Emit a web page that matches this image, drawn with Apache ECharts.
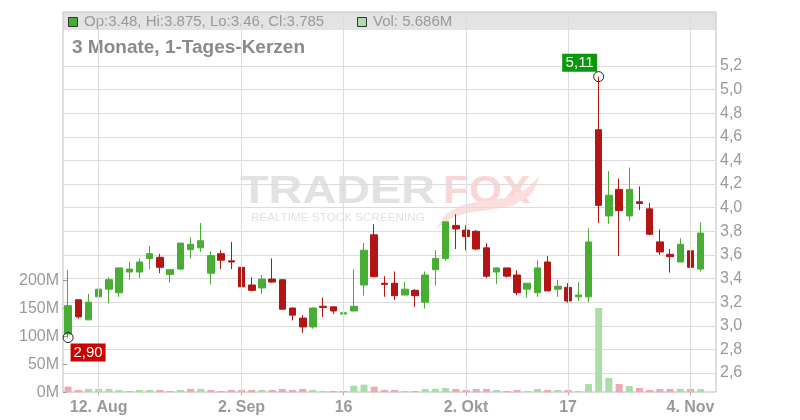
<!DOCTYPE html>
<html><head><meta charset="utf-8">
<script src="https://cdn.jsdelivr.net/npm/echarts@6/dist/echarts.min.js"></script>
<style>html,body{margin:0;padding:0;background:#fff}#c{width:800px;height:420px}</style>
</head><body><div id="c"></div>
<script>
// ---- data ----
const categories = [
 '2024-08-07','2024-08-08','2024-08-09','2024-08-12','2024-08-13','2024-08-14','2024-08-16',
 '2024-08-19','2024-08-20','2024-08-21','2024-08-22','2024-08-23','2024-08-26','2024-08-27',
 '2024-08-28','2024-08-29','2024-08-30','2024-09-02','2024-09-03','2024-09-04','2024-09-05',
 '2024-09-06','2024-09-09','2024-09-10','2024-09-11','2024-09-12','2024-09-13','2024-09-16',
 '2024-09-17','2024-09-18','2024-09-19','2024-09-20','2024-09-23','2024-09-24','2024-09-25',
 '2024-09-26','2024-09-27','2024-09-30','2024-10-01','2024-10-02','2024-10-04','2024-10-07',
 '2024-10-08','2024-10-09','2024-10-10','2024-10-11','2024-10-14','2024-10-15','2024-10-16',
 '2024-10-17','2024-10-18','2024-10-21','2024-10-22','2024-10-23','2024-10-24','2024-10-25',
 '2024-10-28','2024-10-29','2024-10-30','2024-10-31','2024-11-01','2024-11-04','2024-11-05'
];
const openP = [2.93,3.22,3.05,3.245,3.31,3.28,3.455,3.455,3.57,3.58,3.435,3.48,3.645,3.66,3.445,3.61,3.55,3.495,3.345,3.32,3.395,3.39,3.15,3.065,2.99,3.165,3.16,3.10,3.125,3.345,3.77,3.36,3.36,3.26,3.30,3.20,3.475,3.57,3.85,3.81,3.80,3.66,3.455,3.49,3.43,3.31,3.28,3.54,3.31,3.325,3.245,3.245,4.66,3.93,4.155,3.93,4.05,3.99,3.71,3.605,3.54,3.635,3.48];
const closeP = [3.17,3.075,3.20,3.31,3.39,3.49,3.48,3.54,3.61,3.495,3.475,3.70,3.69,3.72,3.595,3.555,3.54,3.33,3.30,3.395,3.37,3.14,3.09,2.99,3.15,3.155,3.125,3.11,3.165,3.64,3.415,3.35,3.255,3.31,3.255,3.43,3.57,3.88,3.82,3.755,3.65,3.42,3.49,3.42,3.28,3.36,3.49,3.295,3.335,3.21,3.26,3.71,4.02,4.105,3.975,4.155,4.035,3.775,3.625,3.585,3.69,3.495,3.785];
const lowP = [2.90,3.06,3.05,3.24,3.19,3.245,3.39,3.405,3.48,3.445,3.365,3.47,3.57,3.625,3.35,3.48,3.48,3.32,3.29,3.27,3.365,3.14,3.045,2.94,2.975,3.075,3.10,3.06,3.125,3.255,3.415,3.245,3.22,3.26,3.16,3.145,3.34,3.55,3.65,3.64,3.64,3.405,3.355,3.41,3.26,3.24,3.245,3.295,3.245,3.195,3.21,3.20,3.87,3.865,3.59,3.89,3.98,3.765,3.60,3.45,3.54,3.47,3.46];
const highP = [3.47,3.22,3.27,3.47,3.41,3.49,3.54,3.57,3.675,3.61,3.475,3.70,3.75,3.87,3.63,3.64,3.71,3.54,3.41,3.43,3.57,3.395,3.155,3.09,3.155,3.24,3.165,3.15,3.48,3.70,3.86,3.42,3.46,3.37,3.31,3.46,3.64,3.88,3.945,3.85,3.81,3.70,3.495,3.49,3.47,3.36,3.555,3.59,3.39,3.36,3.37,3.825,5.11,4.31,4.245,4.34,4.18,4.04,3.815,3.65,3.74,3.64,3.875];
const volumeM = [10.1,4.2,6,6,6,4.2,2.4,4.2,4.2,4.2,2.4,4.2,6,6,4.2,2.4,4.2,4.2,4.2,4.2,4.2,6,4.2,6,4.2,2.4,2.4,2.4,12,13.7,10.1,4.2,4.2,2.4,2.4,6,6,7.7,6,4.2,6,6,4.2,2.4,4.2,2.4,6,4.2,4.2,4.2,2.4,14.9,150.6,25.6,14.9,11.3,7.7,4.2,6,6,6,6,5.686];
const prevClose = 3.25;
const tickDates = ['2024-08-12','2024-09-02','2024-09-16','2024-10-02','2024-10-17','2024-11-04'];
const tickLabels = ['12. Aug','2. Sep','16','2. Okt','17','4. Nov'];
const titleText = '3 Monate, 1-Tages-Kerzen';

// ---- build ----
const FONT = "'Liberation Sans', Arial, sans-serif";
const UP = '#47ae33', DOWN = '#b31515';
const axisCats = categories.concat(['']);
const candleData = categories.map((d, i) => [openP[i], closeP[i], lowP[i], highP[i]]);
const volData = volumeM.map((v, i) => {
  const pc = i === 0 ? prevClose : closeP[i - 1];
  return { value: v * 1e6, itemStyle: { color: closeP[i] >= pc ? '#aadda8' : '#f0a8b2' } };
});
const tickIdx = tickDates.map(d => categories.indexOf(d));
const labelOf = {};
tickIdx.forEach((k, j) => { labelOf[k] = tickLabels[j]; });
let iMax = 0, iMin = 0;
highP.forEach((v, i) => { if (v > highP[iMax]) iMax = i; });
lowP.forEach((v, i) => { if (v < lowP[iMin]) iMin = i; });
const fmt2 = v => v.toFixed(2).replace('.', ',');
const L = categories.length - 1;
const legendText = 'Op:' + openP[L] + ', Hi:' + highP[L] + ', Lo:' + lowP[L] + ', Cl:' + closeP[L];
const volText = 'Vol: ' + volumeM[L].toFixed(3) + 'M';

const chart = echarts.init(document.getElementById('c'), null, { renderer: 'canvas' });
chart.setOption({
  animation: false,
  backgroundColor: '#fff',
  textStyle: { fontFamily: FONT },
  grid: [
    { left: 63, right: 84, top: 12, bottom: 28, show: true, borderColor: '#bdbdbd', borderWidth: 1, backgroundColor: 'rgba(0,0,0,0)' },
    { left: 63, right: 84, top: 66, bottom: 23.4 },
    { left: 63, right: 84, top: 280.3, bottom: 27.7 }
  ],
  xAxis: [
    { gridIndex: 0, type: 'value', min: -0.5, max: axisCats.length - 0.5, show: false },
    { gridIndex: 1, type: 'category', data: axisCats, boundaryGap: true, show: false },
    { gridIndex: 2, type: 'category', data: axisCats, boundaryGap: true,
      axisLine: { show: false },
      axisTick: { show: true, interval: (i) => (i in labelOf), alignWithLabel: true, length: 3, lineStyle: { color: '#aaa' } },
      axisLabel: { interval: (i) => (i in labelOf), formatter: (v, i) => labelOf[i] || '', color: '#9a9a9a', fontSize: 16, fontWeight: 'bold', fontFamily: FONT, margin: 7 },
      splitLine: { show: false } }
  ],
  yAxis: [
    { gridIndex: 0, type: 'value', min: 0, max: 1, show: false },
    { gridIndex: 1, type: 'value', position: 'right', min: 2.4, max: 5.2, interval: 0.2,
      axisLine: { show: false }, axisTick: { show: false },
      axisLabel: { formatter: v => (v < 2.5 ? '' : v.toFixed(1).replace('.', ',')), color: '#9a9a9a', fontSize: 16, fontFamily: FONT, margin: 4, padding: [4, 0, 0, 0] },
      splitLine: { show: true, showMinLine: false, lineStyle: { color: '#dcdcdc', width: 1 } } },
    { gridIndex: 2, type: 'value', position: 'left', min: 0, max: 200e6, interval: 50e6,
      axisLine: { show: false },
      axisTick: { show: true, inside: true, length: 4, lineStyle: { color: '#999' } },
      axisLabel: { formatter: v => (v / 1e6) + 'M', color: '#9a9a9a', fontSize: 16, fontFamily: FONT, margin: 4, padding: [4, 0, 0, 0] },
      splitLine: { show: false } }
  ],
  series: [
    { type: 'line', xAxisIndex: 0, yAxisIndex: 0, data: [[-10, -10]], symbol: 'none', silent: true, z: 1,
      lineStyle: { opacity: 0 },
      markLine: { silent: true, symbol: ['none', 'none'], label: { show: false },
        lineStyle: { color: '#dcdcdc', type: 'solid', width: 1 },
        data: tickIdx.map(k => ({ xAxis: k })) } },
    { type: 'candlestick', xAxisIndex: 1, yAxisIndex: 1, data: candleData, barWidth: 7, z: 3,
      itemStyle: { color: UP, color0: DOWN, borderColor: UP, borderColor0: DOWN, borderWidth: 1 },
      markPoint: { silent: true, data: [
        { coord: [iMax, highP[iMax]], symbol: 'rect', symbolSize: [35, 18], symbolOffset: [-19, -14],
          itemStyle: { color: '#0b990b' },
          label: { show: true, position: 'inside', formatter: fmt2(highP[iMax]), color: '#fff', fontSize: 15, fontFamily: FONT } },
        { coord: [iMax, highP[iMax]], symbol: 'circle', symbolSize: 10,
          itemStyle: { color: 'rgba(0,0,0,0)', borderColor: '#222', borderWidth: 1 }, label: { show: false } },
        { coord: [iMin, lowP[iMin]], symbol: 'rect', symbolSize: [35, 18], symbolOffset: [20, 15],
          itemStyle: { color: '#cc0000' },
          label: { show: true, position: 'inside', formatter: fmt2(lowP[iMin]), color: '#fff', fontSize: 15, fontFamily: FONT } },
        { coord: [iMin, lowP[iMin]], symbol: 'circle', symbolSize: 10,
          itemStyle: { color: 'rgba(0,0,0,0)', borderColor: '#222', borderWidth: 1 }, label: { show: false } }
      ] } },
    { type: 'bar', xAxisIndex: 2, yAxisIndex: 2, data: volData, barWidth: 7, z: 2 }
  ],
  graphic: [
    { type: 'rect', z: -1, silent: true, shape: { x: 63.5, y: 12.5, width: 652, height: 17.5 }, style: { fill: '#e3e3e3' } },
    { type: 'text', z: -1, silent: true, x: 240, y: 192, scaleX: 1.2, style: { x: 0, y: 0, text: 'TRADER', fontSize: 39, fontWeight: 'bold', fontFamily: FONT, fill: '#e2e2e2', verticalAlign: 'middle' } },
    { type: 'text', z: -1, silent: true, x: 443, y: 192, scaleX: 1.09, style: { x: 0, y: 0, text: 'FOX', fontSize: 39, fontWeight: 'bold', fontFamily: FONT, fill: '#fbd6d6', verticalAlign: 'middle' } },
    { type: 'text', z: -1, silent: true, x: 251, y: 218.5, scaleX: 1.17, style: { x: 0, y: 0, text: 'REALTIME STOCK SCREENING', fontSize: 10, fontFamily: FONT, fill: '#e2e2e2', verticalAlign: 'middle' } },
    { type: 'polygon', z: -1, silent: true, shape: { points: [[436,229],[446,214],[462,205],[482,201],[505,198],[525,190],[540,176],[532,194],[512,206],[488,210],[466,213],[450,219]] }, style: { fill: '#fbdede' } },
    { type: 'rect', silent: true, shape: { x: 68.5, y: 17.5, width: 9, height: 9 }, style: { fill: UP, stroke: '#333', lineWidth: 1 } },
    { type: 'text', silent: true, x: 84, y: 22, style: { text: legendText, fontSize: 15, fontFamily: FONT, fill: '#999', verticalAlign: 'middle' } },
    { type: 'rect', silent: true, shape: { x: 357.5, y: 17.5, width: 9, height: 9 }, style: { fill: '#aadda8', stroke: '#333', lineWidth: 1 } },
    { type: 'text', silent: true, x: 373, y: 22, style: { text: volText, fontSize: 15, fontFamily: FONT, fill: '#999', verticalAlign: 'middle' } },
    { type: 'text', silent: true, x: 72, y: 48, style: { text: titleText, fontSize: 19, fontWeight: 'bold', fontFamily: FONT, fill: '#8a8a8a', verticalAlign: 'middle' } }
  ]
});
</script>
</body></html>
